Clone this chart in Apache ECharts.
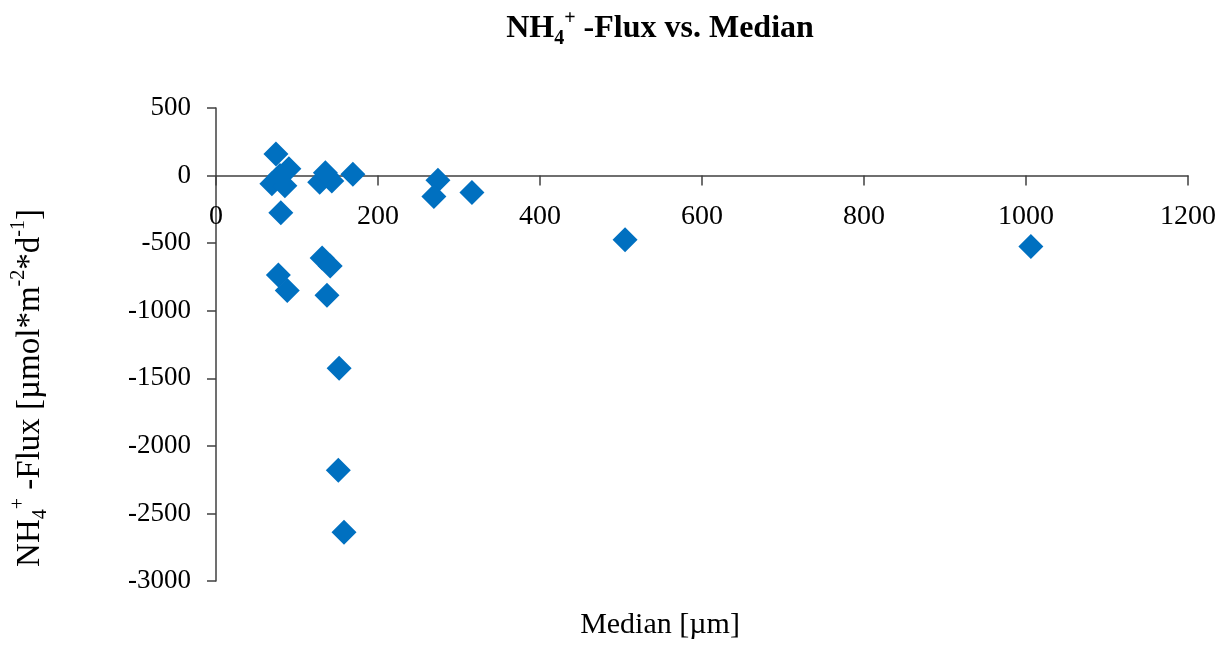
<!DOCTYPE html>
<html lang="en">
<head>
    <meta charset="UTF-8">
    <title>NH4+ flux vs median</title>
    <style>
        html, body { margin: 0; padding: 0; background: #fff; }
        #main { width: 1230px; height: 645px; }
    </style>
</head>
<body>
    <div id="main"></div>
    <script src="https://cdn.jsdelivr.net/npm/echarts@6/dist/echarts.min.js"></script>
    <script>
        // median grain size [µm]
        const medianValues = [74, 90, 69, 85, 79, 80, 77, 88, 128, 137, 143, 135, 169, 131, 141, 137, 152, 151, 158, 274, 269, 316, 505, 1006];
        // NH4+ flux [µmol*m-2*d-1]
        const fluxValues = [160, 50, -60, -75, 0, -275, -735, -850, -50, 0, -40, 20, 10, -610, -670, -885, -1425, -2180, -2640, -35, -155, -125, -475, -525];
        const xTicks = [0, 1200, 200];
        const yTicks = [-3000, 500, 500];

        const points = medianValues.map((m, i) => [m, fluxValues[i]]);

        const serif = '"Liberation Serif", "Times New Roman", serif';
        const gridTop = 108, gridBottom = 64, chartH = 645;
        // x axis sits on y = 0, like the Excel original
        const zeroOffset = (0 - yTicks[0]) / (yTicks[1] - yTicks[0]) * (chartH - gridTop - gridBottom);

        const myChart = echarts.init(document.getElementById('main'));

        const option = {
            backgroundColor: '#fff',
            animation: false,
            graphic: [
                {
                    type: 'text',
                    x: 660,
                    y: 29,
                    style: {
                        text: '{b|NH}{bsub|4}{bsup|+}{b| -Flux vs. Median}',
                        align: 'center',
                        verticalAlign: 'middle',
                        rich: {
                            b: { fontFamily: serif, fontWeight: 'bold', fontSize: 32, fill: '#000', lineHeight: 40 },
                            bsub: { fontFamily: serif, fontWeight: 'bold', fontSize: 20, fill: '#000', verticalAlign: 'bottom', lineHeight: 21 },
                            bsup: { fontFamily: serif, fontWeight: 'bold', fontSize: 20, fill: '#000', verticalAlign: 'top', lineHeight: 21 }
                        }
                    }
                },
                {
                    type: 'text',
                    x: 660,
                    y: 625,
                    style: {
                        text: 'Median [µm]',
                        align: 'center',
                        verticalAlign: 'middle',
                        font: '30px ' + serif,
                        fill: '#000'
                    }
                },
                {
                    type: 'text',
                    x: 30,
                    y: 388,
                    rotation: Math.PI / 2,
                    style: {
                        text: '{n|NH}{sub|4}{sup|+}{n| -Flux [µmol*m}{sup|-2}{n|*d}{sup|-1}{n|]}',
                        align: 'center',
                        verticalAlign: 'middle',
                        rich: {
                            n: { fontFamily: serif, fontSize: 33, fill: '#000', lineHeight: 42 },
                            sub: { fontFamily: serif, fontSize: 20, fill: '#000', verticalAlign: 'bottom', lineHeight: 23 },
                            sup: { fontFamily: serif, fontSize: 20, fill: '#000', verticalAlign: 'top', lineHeight: 23 }
                        }
                    }
                }
            ],
            grid: { left: 216, right: 42, top: gridTop, bottom: gridBottom, outerBoundsMode: 'none' },
            xAxis: {
                type: 'value',
                min: xTicks[0],
                max: xTicks[1],
                interval: xTicks[2],
                position: 'bottom',
                offset: -zeroOffset,
                axisLine: { onZero: false, lineStyle: { color: '#404040', width: 1.5 } },
                axisTick: { show: true, inside: false, length: 10, lineStyle: { color: '#404040', width: 1.5 } },
                axisLabel: {
                    fontFamily: serif, fontSize: 28, color: '#000', margin: 27,
                    formatter: v => String(v)
                },
                splitLine: { show: false }
            },
            yAxis: {
                type: 'value',
                min: yTicks[0],
                max: yTicks[1],
                interval: yTicks[2],
                axisLine: { show: true, lineStyle: { color: '#404040', width: 1.5 } },
                axisTick: { show: true, inside: false, length: 9, lineStyle: { color: '#404040', width: 1.5 } },
                axisLabel: {
                    fontFamily: serif, fontSize: 27, color: '#000', margin: 25,
                    formatter: v => String(v)
                },
                splitLine: { show: false }
            },
            series: [
                {
                    type: 'scatter',
                    symbol: 'diamond',
                    symbolSize: [25, 25],
                    itemStyle: { color: '#0070C0', opacity: 1 },
                    data: points
                }
            ]
        };

        myChart.setOption(option);
    </script>
</body>
</html>
